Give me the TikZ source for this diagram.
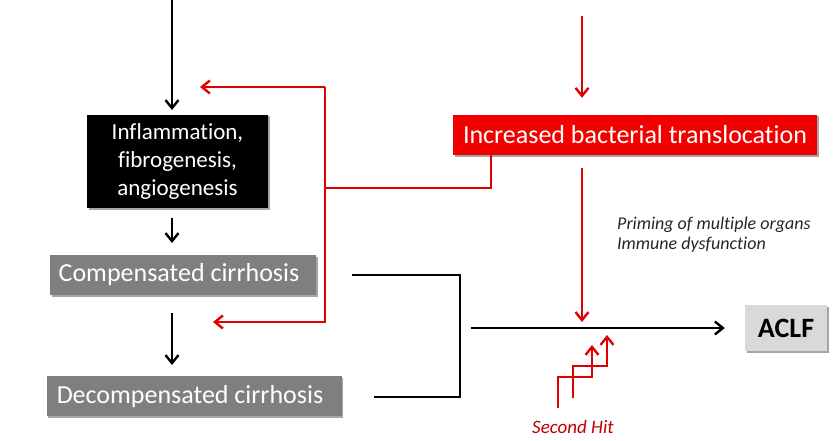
\documentclass[tikz,border=0pt]{standalone}
\usepackage{fontspec}
\setmainfont{Carlito}[Ligatures={NoCommon}]
\usetikzlibrary{arrows.meta,shadows}
\definecolor{lred}{HTML}{E00000}
\definecolor{bred}{HTML}{F20000}
\definecolor{boxgray}{HTML}{7F7F7F}
\definecolor{lgray}{HTML}{D9D9D9}
\definecolor{hitred}{HTML}{C00000}
\definecolor{txtdark}{HTML}{262626}
\begin{document}
\begin{tikzpicture}[x=1pt,y=-1pt,
  shd/.style={drop shadow={shadow xshift=1.5pt,shadow yshift=-1.5pt,opacity=.35,fill=black}},
  boxbase/.style={shd,inner sep=0pt,text=white,font=\fontsize{26}{28}\selectfont},
  blkarrow/.style={line width=2.4pt,-{Straight Barb[length=8pt,width=13pt]}},
  redarrow/.style={lred,line width=2.4pt,-{Straight Barb[length=8pt,width=13pt]}},
  redline/.style={lred,line width=2.4pt},
  bracket/.style={line width=2.4pt,line join=miter}
]
\useasboundingbox (0,0) rectangle (840,441);
% boxes
\node[boxbase,fill=black,minimum width=181pt,minimum height=93pt,align=center,font=\fontsize{23}{28}\selectfont] (infl) at (177.5,161.5) {Inflammation,\\fibrogenesis,\\angiogenesis};
\node[boxbase,fill=boxgray,minimum width=266pt,minimum height=40pt] (comp) at (183,275) {\hspace*{-8pt}Compensated cirrhosis};
\node[boxbase,fill=boxgray,minimum width=295pt,minimum height=40pt] (decomp) at (194,396.3) {\hspace*{-8pt}Decompensated cirrhosis};
\node[boxbase,fill=bred,minimum width=364pt,minimum height=40pt] (bact) at (635,135) {Increased bacterial translocation};
\node[shd,fill=lgray,minimum width=82pt,minimum height=46pt,inner sep=0pt,font=\fontsize{28}{28}\selectfont\bfseries] (aclf) at (786,328) {ACLF};
% texts
\node[anchor=base west,inner sep=0pt,text=txtdark,font=\fontsize{18}{20}\selectfont\itshape] (pr1) at (617,229) {Priming of multiple organs};
\node[anchor=base west,inner sep=0pt,text=txtdark,font=\fontsize{18}{20}\selectfont\itshape] (pr2) at (617,249) {Immune dysfunction};
\node[anchor=base,inner sep=0pt,text=hitred,font=\fontsize{19}{20}\selectfont\itshape] (hit) at (573,433) {Second Hit};
% coordinates
\coordinate (top) at (172,0);
\coordinate (rtop) at (582,16);
\coordinate (j1) at (325,87);
\coordinate (j2) at (325,322);
\coordinate (t1) at (200,87);
\coordinate (t2) at (213,322);
\coordinate (mstart) at (471,328);
% black arrows
\draw[blkarrow] (top) -- (172,110);
\draw[blkarrow] (172,218) -- (172,243);
\draw[blkarrow] (172,313) -- (172,365);
% red feedback
\draw[redline] (bact.south -| 491,0) -- (491,188) -- (325,188);
\draw[redarrow] (j1) -- (t1);
\draw[redarrow,line join=miter] (j1) -- (j2) -- (t2);
\draw[redarrow] (rtop) -- ([yshift=17pt]bact.north -| 582,0);
\draw[redarrow] ([yshift=-13pt]bact.south -| 582,0) -- (582,322);
% bracket
\draw[bracket] ([xshift=36pt]comp.east) -- (460,275) -- (460,397) -- ([xshift=32pt]decomp.east |- 0,397);
% main arrow
\draw[blkarrow] (mstart) -- ([xshift=-20pt]aclf.west);
% second hit steps
\draw[redarrow,line join=miter] (558,408) -- (558,377) -- (592,377) -- (592,345);
\draw[redarrow,line join=miter] (573,398) -- (573,366) -- (607,366) -- (607,335);
\end{tikzpicture}
\end{document}
